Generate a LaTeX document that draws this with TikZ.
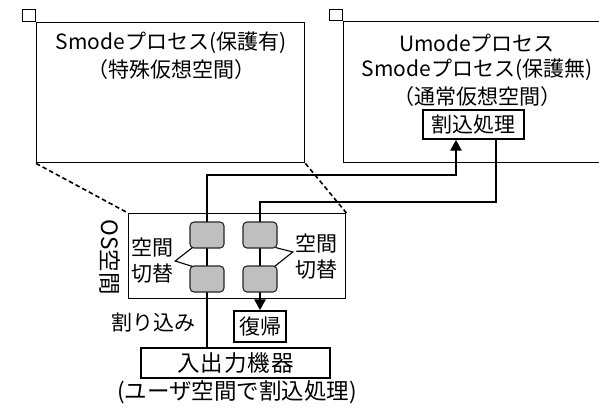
\documentclass[tikz,border=0pt]{standalone}
\usepackage{fontspec}
\setmainfont{Noto Sans CJK JP}
\newfontfamily\jph[CharacterWidth=AlternateHalf]{Noto Sans CJK JP}
\usetikzlibrary{arrows.meta,calc}
\begin{document}
\begin{tikzpicture}[x=1pt,y=-1pt,
  box/.style={draw,line width=1.4pt,inner sep=0pt},
  txt/.style={inner sep=0pt,font=\fontsize{21}{26}\selectfont},
  bigtxt/.style={inner sep=0pt,font=\fontsize{22.5}{27}\selectfont},
  gbox/.style={draw=black!85,fill=black!25,rounded corners=4pt,line width=1.1pt,minimum width=34pt,minimum height=26pt,inner sep=0pt},
  conn/.style={line width=2.6pt},
  arr/.style={conn,-{Triangle[length=11pt,width=11pt]}},
  dashline/.style={line width=1.6pt,dash pattern=on 4.5pt off 3pt},
  call/.style={line width=1.1pt}]
\useasboundingbox (0,0) rectangle (599,414);
\fill[white] (0,0) rectangle (599,414);

% big process boxes
\node[box,minimum width=268pt,minimum height=140pt,anchor=north west] (lb) at (36,22) {};
\node[box,minimum width=13pt,minimum height=12pt,anchor=south east] (ls) at (lb.north west) {};
\node[box,minimum width=264pt,minimum height=141pt,anchor=north west] (rb) at (343,21) {};
\node[box,minimum width=13pt,minimum height=11pt,anchor=south east] (rs) at (rb.north west) {};

\node[txt] (lt1) at (171,43) {Smodeプロセス(保護有)};
\node[txt] (lt2) at (171,70) {\jph （特殊仮想空間）};
\node[txt] (rt1) at (477,43) {Umodeプロセス};
\node[txt] (rt2) at (477,70) {Smodeプロセス(保護無)};
\node[txt] (rt3) at (477,97) {\jph （通常仮想空間）};
\node[box,txt,fill=white,minimum width=101pt,minimum height=29pt] (irq) at (473.5,124.5) {割込処理};

% OS space
\node[box,minimum width=217pt,minimum height=85pt,anchor=north west] (os) at (128,213) {};
\node[bigtxt,rotate=-90] (osl) at (110,257) {OS空間};

\draw[dashline] (lb.south west) -- (os.north west);
\draw[dashline] (lb.south east) -- (os.north east);

% bottom
\node[box,txt,minimum width=52pt,minimum height=31pt] (ret) at (260,326.5) {復帰};
\node[txt] (intl) at (153,323) {割り込み};
\node[box,bigtxt,minimum width=189pt,minimum height=30pt] (io) at (235.5,363) {\addfontfeature{LetterSpace=4}入出力機器};
\node[bigtxt] (iol) at (237,392) {(ユーザ空間で割込処理)};

% column positions
\coordinate (colL) at (207,235);
\coordinate (colR) at (260,235);

% connectors
\coordinate (k1) at (207,175);
\coordinate (k2) at (456,175);
\coordinate (k3) at (496,202);
\coordinate (k4) at (260,202);
\draw[arr] (colL |- io.north) -- (k1) -- (k2) -- (k2 |- irq.south);
\draw[arr] (k3 |- irq.south) -- (k3) -- (k4) -- (ret.north);

% gray switch boxes
\node[gbox] (g1) at (207,235) {};
\node[gbox] (g2) at (207,279) {};
\node[gbox] (g3) at (260,235) {};
\node[gbox] (g4) at (260,279) {};

\node[txt,align=center] (sl) at (152,261) {空間\\切替};
\node[txt,align=center] (sr) at (316,257) {空間\\切替};

\draw[call] ([xshift=3pt,yshift=1pt]g1.south west) -- ([xshift=2pt]sl.east) -- ([xshift=3pt,yshift=-1pt]g2.north west);
\draw[call] ([xshift=-2pt,yshift=1pt]g3.south east) -- ([xshift=-2pt,yshift=5pt]sr.west) -- ([xshift=-3pt,yshift=-1pt]g4.north east);
\end{tikzpicture}
\end{document}
